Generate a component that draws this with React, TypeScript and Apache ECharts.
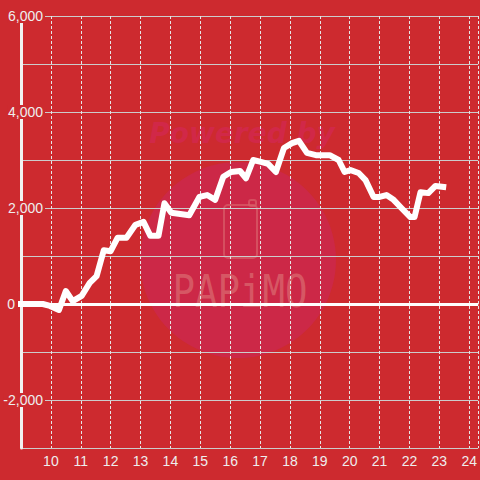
import React, { useEffect, useRef } from "react";
import * as echarts from "echarts";

// hour of day, cumulative value
const hours = [9.0, 9.73, 9.97, 10.27, 10.5, 10.73, 11.03, 11.3, 11.53, 11.77, 12.0, 12.23, 12.53, 12.83, 13.1, 13.33, 13.6, 13.8, 14.03, 14.63, 14.97, 15.23, 15.5, 15.77, 16.03, 16.33, 16.53, 16.77, 17.03, 17.27, 17.53, 17.8, 18.07, 18.3, 18.57, 18.87, 19.33, 19.63, 19.83, 20.03, 20.3, 20.53, 20.8, 21.0, 21.23, 21.47, 21.73, 22.03, 22.17, 22.37, 22.63, 22.87, 23.13];
const values = [0, 0, -40, -125, 270, 60, 170, 440, 580, 1120, 1100, 1380, 1380, 1650, 1710, 1420, 1420, 2100, 1900, 1850, 2230, 2270, 2170, 2650, 2750, 2770, 2620, 3000, 2960, 2920, 2750, 3250, 3350, 3400, 3150, 3100, 3100, 3000, 2750, 2790, 2730, 2580, 2230, 2230, 2270, 2170, 2000, 1810, 1810, 2330, 2310, 2460, 2440];
const xTickLabels = ["10", "11", "12", "13", "14", "15", "16", "17", "18", "19", "20", "21", "22", "23", "24"];
const yTickLabels = ["-2,000", "0", "2,000", "4,000", "6,000"];

const BG = "#cd2a2f";

export default function App() {
  const ref = useRef<HTMLDivElement>(null);
  useEffect(() => {
    const chart = echarts.init(ref.current!, undefined, { renderer: "svg" });
    const data = hours.map((h, i) => [h, values[i]]);
    chart.setOption({
      animation: false,
      backgroundColor: BG,
      textStyle: { fontFamily: "Liberation Sans" },
      grid: { left: 21, right: 0, top: 16, bottom: 32, containLabel: false },
      graphic: [
        { type: "circle", z: -10, shape: { cx: 238, cy: 260, r: 98 }, style: { fill: "#cc2847" }, silent: true },
        {
          type: "text", z: -9, x: 242, y: 133, silent: true,
          style: { text: "Powered by", fontFamily: "DejaVu Sans", fontWeight: "bold", fontStyle: "italic", fontSize: 28, fill: "#d12848", align: "center", verticalAlign: "middle" },
        },
        { type: "rect", z: -9, silent: true, shape: { x: 224, y: 205, width: 33, height: 53, r: 4 }, style: { fill: "none", stroke: "#d9606a", lineWidth: 2, opacity: 0.7 } },
        { type: "rect", z: -9, silent: true, shape: { x: 249, y: 200, width: 7, height: 6, r: 2 }, style: { fill: "none", stroke: "#d9606a", lineWidth: 2, opacity: 0.7 } },
        {
          type: "text", z: -9, x: 240, y: 292, scaleX: 0.85, silent: true,
          style: { text: "PAPiMO", fontFamily: "DejaVu Sans Mono", fontSize: 44, fill: "#d8606a", align: "center", verticalAlign: "middle", opacity: 0.85 },
        },
      ],
      xAxis: {
        type: "value",
        min: 9,
        max: 24.3,
        interval: 1,
        axisLine: { show: false },
        axisTick: { show: false },
        axisLabel: {
          color: "#eeeeee",
          fontSize: 14,
          margin: 6,
          showMinLabel: false,
          showMaxLabel: false,
          formatter: (v: number) => {
            const s = String(Math.round(v));
            return Math.abs(v - Math.round(v)) < 1e-6 && xTickLabels.includes(s) ? s : "";
          },
        },
        splitLine: { show: true, lineStyle: { color: "#e6e6e6", width: 1, type: [3, 2] } },
      },
      yAxis: {
        type: "value",
        min: -3000,
        max: 6000,
        interval: 1000,
        axisLine: { show: true, lineStyle: { color: "#f2f2f2", width: 3 } },
        axisTick: { show: false },
        axisLabel: {
          margin: -24,
          formatter: (v: number) => {
            const s = v.toLocaleString("en-US");
            if (!yTickLabels.includes(s)) return "";
            return v === 0 ? "{z|" + s + "}" : "{b|" + s + "}";
          },
          rich: {
            b: { color: "#eeeeee", fontSize: 14, lineHeight: 14, backgroundColor: BG, padding: [0, 2, 0, 0], fontFamily: "Liberation Sans" },
            z: { color: "#eeeeee", fontSize: 14, lineHeight: 14, padding: [0, 30, 0, 0], fontFamily: "Liberation Sans" },
          },
        },
        splitLine: { show: true, lineStyle: { color: "#cccccc", width: 1 } },
      },
      series: [
        {
          type: "line",
          data,
          symbol: "none",
          lineStyle: { color: "#ffffff", width: 6, cap: "square", join: "round" },
          markLine: {
            silent: true,
            symbol: ["none", "none"],
            label: { show: false },
            lineStyle: { color: "#ffffff", width: 3, type: "solid" },
            data: [{ yAxis: 0 }],
          },
        },
      ],
    });
    return () => chart.dispose();
  }, []);
  return <div ref={ref} style={{ position: "fixed", left: 0, top: 0, width: 480, height: 480 }} />;
}
